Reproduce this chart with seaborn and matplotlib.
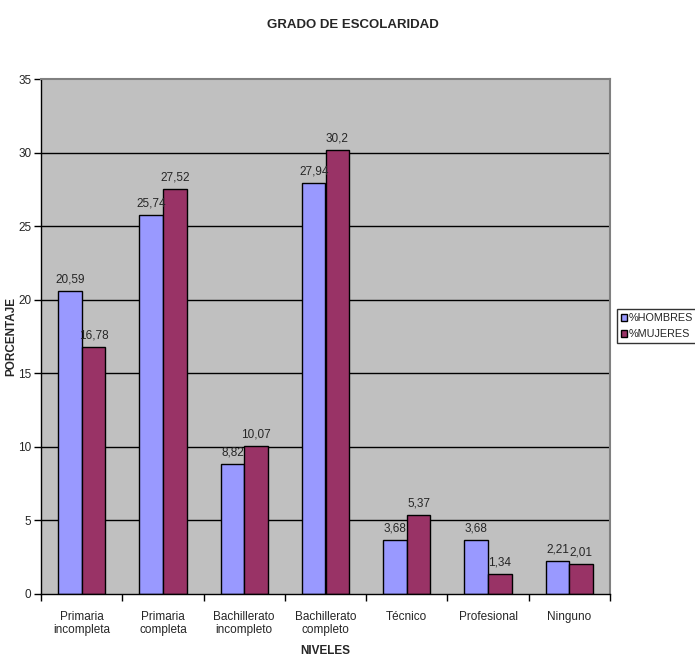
import matplotlib
matplotlib.use("Agg")
import matplotlib.pyplot as plt
import seaborn as sns
import pandas as pd

categories = ["Primaria\nincompleta", "Primaria\ncompleta", "Bachillerato\nincompleto",
              "Bachillerato\ncompleto", "Técnico", "Profesional", "Ninguno"]
hombres = [20.59, 25.74, 8.82, 27.94, 3.68, 3.68, 2.21]
mujeres = [16.78, 27.52, 10.07, 30.2, 5.37, 1.34, 2.01]
series = ["%HOMBRES", "%MUJERES"]
colors = ["#9999FF", "#993366"]

df = pd.DataFrame({
    "cat": categories * 2,
    "val": hombres + mujeres,
    "serie": [series[0]] * len(categories) + [series[1]] * len(categories),
})

sns.set_theme(style="white")
plt.rcParams["font.family"] = ["Liberation Sans", "DejaVu Sans"]

fig = plt.figure(figsize=(6.95, 6.64), dpi=100)
ax = fig.add_axes([41/695, 1-594/664, (610-41)/695, (594-79)/664])
ax.set_facecolor("#C0C0C0")

sns.barplot(data=df, x="cat", y="val", hue="serie", palette=colors, ax=ax,
            width=0.58, edgecolor="black", linewidth=1, saturation=1, legend=True)

ax.set_ylim(0, 35)
ax.set_xlim(-0.5, len(categories) - 0.5)
ax.set_yticks(range(0, 36, 5))
for y in range(5, 35, 5):
    ax.axhline(y, color="black", linewidth=1, zorder=0.5)
ax.set_axisbelow(True)

for cont in ax.containers:
    ax.bar_label(cont, labels=[f"{v:g}".replace(".", ",") for v in cont.datavalues],
                 padding=4, fontsize=8.5)

ax.set_xticks([i + 0.5 for i in range(-1, len(categories))], minor=True)
ax.set_xticks(range(len(categories)))
ax.set_xticklabels(categories, fontsize=8.5)
ax.tick_params(axis="x", which="major", length=0, pad=12)
ax.tick_params(axis="x", which="minor", length=5, width=1, color="black", direction="out", bottom=True)
ax.tick_params(axis="y", length=5, width=1, color="black", direction="out", left=True,
               labelsize=8.5, pad=2)

for s in ["top", "right"]:
    ax.spines[s].set_color("#808080")
    ax.spines[s].set_linewidth(1.5)
for s in ["left", "bottom"]:
    ax.spines[s].set_color("black")
    ax.spines[s].set_linewidth(1)

ax.set_xlabel("NIVELES", fontsize=8.5, fontweight="bold", labelpad=6)
ax.set_ylabel("PORCENTAJE", fontsize=8.5, fontweight="bold")
ax.yaxis.set_label_coords(-24/569, 0.5)
fig.text(0.508, 1-25/664, "GRADO DE ESCOLARIDAD", ha="center", va="center",
         fontsize=9.5, fontweight="bold")

leg = ax.legend(loc="center left", bbox_to_anchor=(1.012, 0.52), frameon=True,
                fancybox=False, edgecolor="black", fontsize=7.8, handlelength=0.55,
                handleheight=0.55, handletextpad=0.15, borderpad=0.35, labelspacing=0.55,
                borderaxespad=0)
leg.get_frame().set_linewidth(1)

fig.savefig("out.png", dpi=100, facecolor="white")
